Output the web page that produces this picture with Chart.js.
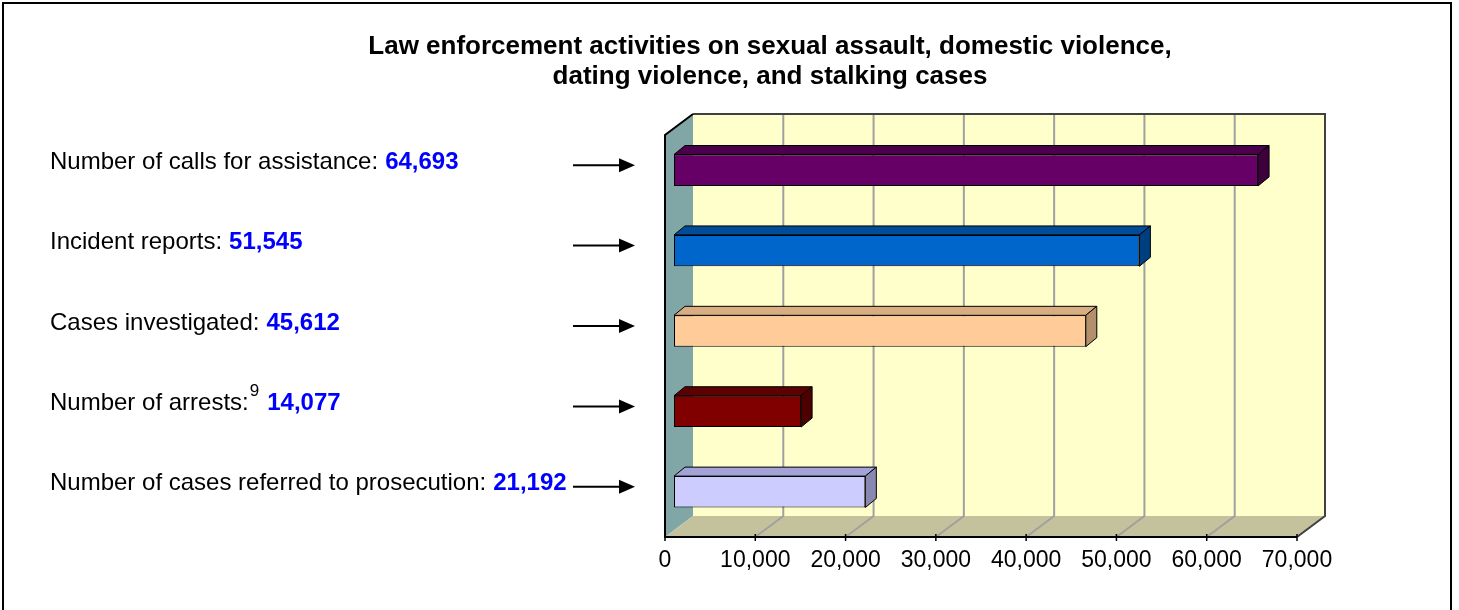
<!DOCTYPE html>
<html>
<head>
<meta charset="utf-8">
<script src="https://cdn.jsdelivr.net/npm/chart.js@4"></script>
<style>
    html, body { margin: 0; padding: 0; background: #ffffff; }
    canvas { display: block; }
</style>
</head>
<body>
<canvas id="lawChart" width="1459" height="610"></canvas>
<script>
// chart data
const titleLines = ['Law enforcement activities on sexual assault, domestic violence,', 'dating violence, and stalking cases'];
const categories = ['Number of calls for assistance:', 'Incident reports:', 'Cases investigated:', 'Number of arrests:', 'Number of cases referred to prosecution:'];
const footnotes = ['', '', '', '9', ''];
const values = [64693, 51545, 45612, 14077, 21192];
const xMin = 0;
const xMax = 70000;
const xStep = 10000;

const frontColors = ['#660066', '#0066cc', '#ffcc99', '#800000', '#ccccff'];
const topColors = ['#4a004a', '#004c99', '#d9ad82', '#5c0000', '#a3a3d6'];
const sideColors = ['#3d003d', '#003f7f', '#b38f6b', '#4d0000', '#8888b3'];

const FONT = '"Liberation Sans", Arial, sans-serif';
// 3D offsets: wall depth and bar depth
const WALL_DX = 28, WALL_DY = -21;
const BAR_SHIFT_X = 9, BAR_SHIFT_Y = -5;
const BAR_DX = 11, BAR_DY = -9;

function poly(ctx, pts, fill, stroke, lw) {
    ctx.beginPath();
    ctx.moveTo(pts[0][0], pts[0][1]);
    for (let i = 1; i < pts.length; i++) ctx.lineTo(pts[i][0], pts[i][1]);
    ctx.closePath();
    if (fill) { ctx.fillStyle = fill; ctx.fill(); }
    if (stroke) { ctx.strokeStyle = stroke; ctx.lineWidth = lw || 1; ctx.stroke(); }
}

const decorPlugin = {
    id: 'decor',
    beforeDraw(chart) {
        const ctx = chart.ctx;
        const area = chart.chartArea;
        const xs = chart.scales.x;
        const ys = chart.scales.y;
        ctx.save();
        ctx.fillStyle = '#ffffff';
        ctx.fillRect(0, 0, chart.width, chart.height);

        // outer frame
        ctx.strokeStyle = '#000000';
        ctx.lineWidth = 2;
        ctx.strokeRect(3, 3, 1448, 640);

        const L = area.left, R = area.right, T = area.top, B = area.bottom;

        // back wall
        poly(ctx, [[L + WALL_DX, T + WALL_DY], [R + WALL_DX, T + WALL_DY], [R + WALL_DX, B + WALL_DY], [L + WALL_DX, B + WALL_DY]], '#ffffcc');
        // side wall
        poly(ctx, [[L, T], [L + WALL_DX, T + WALL_DY], [L + WALL_DX, B + WALL_DY], [L, B]], '#80a6a6');
        // floor
        poly(ctx, [[L, B], [L + WALL_DX, B + WALL_DY], [R + WALL_DX, B + WALL_DY], [R, B]], '#c4c29d');

        // gridlines on wall and floor
        ctx.strokeStyle = '#a0a0a0';
        ctx.lineWidth = 2;
        for (let v = xMin + xStep; v < xMax; v += xStep) {
            const px = xs.getPixelForValue(v);
            ctx.beginPath();
            ctx.moveTo(px + WALL_DX, T + WALL_DY);
            ctx.lineTo(px + WALL_DX, B + WALL_DY);
            ctx.lineTo(px, B);
            ctx.stroke();
        }

        // edges
        ctx.lineWidth = 2;
        ctx.strokeStyle = '#404040';
        ctx.beginPath();
        ctx.moveTo(L + WALL_DX, T + WALL_DY);
        ctx.lineTo(R + WALL_DX, T + WALL_DY);
        ctx.lineTo(R + WALL_DX, B + WALL_DY);
        ctx.lineTo(R, B);
        ctx.stroke();
        ctx.strokeStyle = '#000000';
        ctx.beginPath();
        ctx.moveTo(L + WALL_DX, T + WALL_DY);
        ctx.lineTo(L, T);
        ctx.lineTo(L, B);
        ctx.lineTo(R, B);
        ctx.stroke();

        // front axis tick marks
        ctx.lineWidth = 1.5;
        for (let v = xMin; v <= xMax; v += xStep) {
            const px = xs.getPixelForValue(v);
            ctx.beginPath();
            ctx.moveTo(px, B - 3);
            ctx.lineTo(px, B + 4);
            ctx.stroke();
        }

        // title
        ctx.fillStyle = '#000000';
        ctx.font = 'bold 26px ' + FONT;
        ctx.textAlign = 'center';
        ctx.textBaseline = 'middle';
        ctx.fillText(titleLines[0], 770, 47);
        ctx.fillText(titleLines[1], 770, 77);

        // left labels with arrows
        ctx.textAlign = 'left';
        categories.forEach((cat, i) => {
            const cy = ys.getPixelForValue(i) + BAR_SHIFT_Y;
            const ty = cy - 8;
            let x = 50;
            ctx.font = '24px ' + FONT;
            ctx.fillStyle = '#000000';
            ctx.fillText(cat, x, ty);
            x += ctx.measureText(cat).width;
            if (footnotes[i]) {
                ctx.font = '17px ' + FONT;
                ctx.fillText(footnotes[i], x + 1, ty - 12);
                x += ctx.measureText(footnotes[i]).width + 2;
            }
            x += 7;
            ctx.font = 'bold 24px ' + FONT;
            ctx.fillStyle = '#0000ff';
            ctx.fillText(values[i].toLocaleString('en-US'), x, ty);

            // arrow
            const ay = cy - 5;
            ctx.strokeStyle = '#000000';
            ctx.lineWidth = 2;
            ctx.beginPath();
            ctx.moveTo(573, ay);
            ctx.lineTo(622, ay);
            ctx.stroke();
            poly(ctx, [[635, ay], [619, ay - 7], [619, ay + 7]], '#000000');
        });
        ctx.restore();
    },
    beforeDatasetsDraw(chart) {
        chart.ctx.save();
        chart.ctx.translate(BAR_SHIFT_X, BAR_SHIFT_Y);
    },
    afterDatasetsDraw(chart) {
        const ctx = chart.ctx;
        const meta = chart.getDatasetMeta(0);
        meta.data.forEach((bar, i) => {
            const p = bar.getProps(['x', 'y', 'base', 'height']);
            const top = p.y - p.height / 2;
            const bot = p.y + p.height / 2;
            poly(ctx, [[p.base, top], [p.x, top], [p.x + BAR_DX, top + BAR_DY], [p.base + BAR_DX, top + BAR_DY]], topColors[i], '#000000', 1);
            poly(ctx, [[p.x, top], [p.x + BAR_DX, top + BAR_DY], [p.x + BAR_DX, bot + BAR_DY], [p.x, bot]], sideColors[i], '#000000', 1);
        });
        ctx.restore();
    }
};

new Chart(document.getElementById('lawChart'), {
    type: 'bar',
    data: {
        labels: categories,
        datasets: [{
            data: values,
            backgroundColor: frontColors,
            borderColor: '#000000',
            borderWidth: 1,
            borderSkipped: false,
            categoryPercentage: 1,
            barPercentage: 0.39
        }]
    },
    options: {
        indexAxis: 'y',
        responsive: false,
        animation: false,
        devicePixelRatio: 1,
        layout: { padding: { left: 665, right: 162, top: 135, bottom: 0 } },
        scales: {
            x: {
                min: xMin,
                max: xMax,
                grid: { display: false, drawTicks: false },
                border: { display: false },
                ticks: {
                    stepSize: xStep,
                    color: '#000000',
                    padding: 10,
                    maxRotation: 0,
                    font: { family: FONT, size: 23 }
                },
                afterFit(scale) { scale.height = 73; }
            },
            y: { display: false }
        },
        plugins: {
            legend: { display: false },
            title: { display: false },
            tooltip: { enabled: false }
        }
    },
    plugins: [decorPlugin]
});
</script>
</body>
</html>
